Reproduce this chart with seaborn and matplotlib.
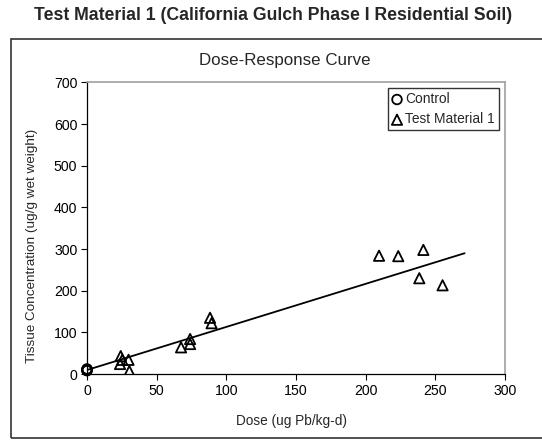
import pandas as pd
import matplotlib.pyplot as plt
from matplotlib.patches import Rectangle
import seaborn as sns

# Values
control_dose = [0, 0, 0, 0, 0]
control_conc = [8, 9, 10, 11, 12]

tm1_dose = [24.2, 23.7, 25.3, 29.8, 30.4, 67.5, 74, 74, 88.3, 89.4,
            209.6, 223.4, 241.4, 238.5, 255.2]
tm1_conc = [43, 24, 34, 34, 7, 64, 84, 72, 135, 122,
            284, 283, 298, 230, 213]

# fitted line end points
fit_dose = [0, 271]
fit_conc = [9.6, 290]

sns.set_style("white")
plt.rcParams['font.family'] = ['Liberation Sans', 'DejaVu Sans']

ctrl = pd.DataFrame({'dose': control_dose, 'conc': control_conc})
tm1 = pd.DataFrame({'dose': tm1_dose, 'conc': tm1_conc})
fit = pd.DataFrame({'dose': fit_dose, 'conc': fit_conc})

W, H = 542, 440
fig = plt.figure(figsize=(W / 100, H / 100), dpi=100)
ax = fig.add_axes([87 / W, 1 - 374 / H, (505 - 87) / W, (374 - 82.5) / H])

sns.lineplot(data=fit, x='dose', y='conc', ax=ax, color='black', lw=1.3, legend=False)
sns.scatterplot(data=ctrl, x='dose', y='conc', ax=ax, marker='o', s=48,
                facecolor='none', edgecolor='black', linewidth=1.3,
                label='Control', clip_on=False, zorder=3)
sns.scatterplot(data=tm1, x='dose', y='conc', ax=ax, marker='^', s=55,
                facecolor='none', edgecolor='black', linewidth=1.3,
                label='Test Material 1', zorder=3)

ax.set_xlim(0, 300)
ax.set_ylim(0, 700)
ax.set_xticks(range(0, 301, 50))
ax.set_yticks(range(0, 701, 100))
ax.tick_params(axis='both', direction='out', length=4, width=0.8,
               labelsize=10.2, colors='black', pad=3)
ax.tick_params(left=True, bottom=True)
ax.set_xlabel('')
ax.set_ylabel('')
for side in ['left', 'bottom']:
    ax.spines[side].set_color('black')
    ax.spines[side].set_linewidth(0.9)
for side in ['top', 'right']:
    ax.spines[side].set_visible(True)
    ax.spines[side].set_color('#a0a0a0')
    ax.spines[side].set_linewidth(1.2)

leg = ax.legend(loc='upper right', bbox_to_anchor=((499 - 87) / (505 - 87), (374 - 88) / (374 - 82.5)),
                frameon=True, fancybox=False, fontsize=9.9, handlelength=0.7,
                handletextpad=0.25, borderpad=0.3, labelspacing=0.45,
                borderaxespad=0)
leg.get_frame().set_edgecolor('black')
leg.get_frame().set_linewidth(1.0)

# outer frame (extends past the right edge like the source)
fig.patches.append(Rectangle((11 / W, 1 - 438 / H), 1.0, (438 - 39) / H,
                             transform=fig.transFigure, fill=False,
                             edgecolor='#333333', lw=1.2))

fig.text(273 / W, 1 - 15 / H, 'Test Material 1 (California Gulch Phase I Residential Soil)',
         ha='center', va='center', fontsize=12.7, fontweight='bold')
fig.text(285 / W, 1 - 61 / H, 'Dose-Response Curve', ha='center', va='center', fontsize=12.2)
fig.text(291 / W, 1 - 421 / H, 'Dose (ug Pb/kg-d)', ha='center', va='center', fontsize=9.8)
fig.text(32 / W, 1 - 246 / H, 'Tissue Concentration (ug/g wet weight)', ha='center',
         va='center', rotation=90, fontsize=9.7)

fig.savefig('out.png', dpi=100)
